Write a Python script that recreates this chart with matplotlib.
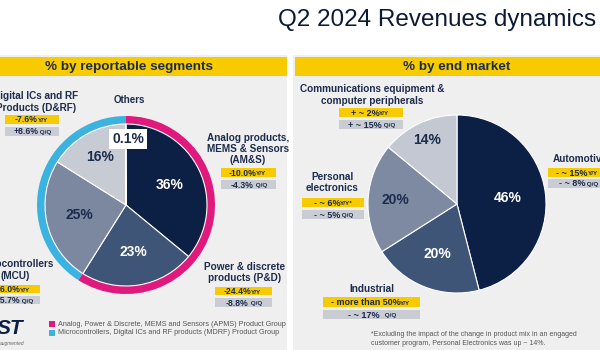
import numpy as np
import matplotlib.pyplot as plt
from matplotlib.patches import Rectangle

plt.rcParams['font.family'] = ['Liberation Sans', 'DejaVu Sans']

# data
seg_labels = ['Analog products,\nMEMS & Sensors\n(AM&S)', 'Power & discrete\nproducts (P&D)',
              'Microcontrollers\n(MCU)', 'Digital ICs and RF\nProducts (D&RF)', 'Others']
seg_share = [36, 23, 25, 16, 0.1]
seg_yy = ['-10.0%', '-24.4%', '-46.0%', '-7.6%']
seg_qq = ['-4.3%', '-8.8%', '-15.7%', '+8.6%']
group_labels = ['Analog, Power & Discrete, MEMS and Sensors (APMS) Product Group',
                'Microcontrollers, Digital ICs and RF products (MDRF) Product Group']
group_share = [59, 41]

mkt_labels = ['Automotive', 'Industrial', 'Personal\nelectronics',
              'Communications equipment &\ncomputer peripherals']
mkt_share = [46, 20, 20, 14]
mkt_yy = ['- ~ 15%', '- more than 50%', '- ~ 6%', '+ ~ 2%']
mkt_yy_unit = ['Y/Y', 'Y/Y', 'Y/Y*', 'Y/Y']
mkt_qq = ['- ~ 8%', '- ~ 17% ', '- ~ 5%', '+ ~ 15%']

navy = '#0c1f45'
txt = '#1d2c4c'
yellow = '#f8ca00'
grey = '#c9ccd3'
magenta = '#e0197d'
cyan = '#3bb3e0'
seg_colors = [navy, '#3e5577', '#7b88a0', '#c6cbd4', 'white']
mkt_colors = [navy, '#3f5578', '#7d8aa1', '#c3c8d2']

fig = plt.figure(figsize=(6, 3.5), dpi=100)
ax = fig.add_axes([0, 0, 1, 1])
ax.set_xlim(0, 600)
ax.set_ylim(350, 0)
ax.axis('off')

# panels and headers
ax.add_patch(Rectangle((0, 55), 287, 300, fc='#efefef', ec='none'))
ax.add_patch(Rectangle((293, 55), 310, 300, fc='#efefef', ec='none'))
ax.add_patch(Rectangle((0, 57), 287, 19, fc=yellow, ec='none'))
ax.add_patch(Rectangle((295, 57), 310, 19, fc=yellow, ec='none'))
ax.text(278, 20, 'Q2 2024 Revenues dynamics', fontsize=17.5, color='#0d1a33',
        ha='left', va='center')
ax.text(129, 67, '% by reportable segments', fontsize=9.7, weight='bold',
        color=txt, ha='center', va='center')
ax.text(457, 67, '% by end market', fontsize=9.7, weight='bold',
        color=txt, ha='center', va='center')


def tag(x0, x1, y0, y1, value, unit, fc, xc=None, size=6.5):
    ax.add_patch(Rectangle((x0, y0), x1 - x0, y1 - y0, fc=fc, ec='none'))
    if xc is None:
        xc = (x0 + x1) / 2 - 6
    t = ax.text(xc, (y0 + y1) / 2 + 0.5, value, ha='center', va='center',
                fontsize=size, weight='bold', color=txt)
    ax.annotate(unit, xy=(1, 0.12), xycoords=t, ha='left', va='bottom',
                fontsize=4.6, weight='bold', color=txt)


def label(x, y, s, ha='center'):
    ax.text(x, y, s, ha=ha, va='center', fontsize=7.2, weight='bold',
            color=txt, linespacing=1.15)


# left side labels
seg_pos = [(248, 149), (245, 272.5), (15, 270), (36, 102)]
seg_box = [(221, 276, 168, 177, 180, 189), (215, 272, 287, 295, 298, 307),
           (-15, 40, 285, 293, 296, 304), (5, 59, 115, 124, 127, 136)]
for i in range(4):
    label(seg_pos[i][0], seg_pos[i][1], seg_labels[i])
    x0, x1, ya, yb, yc, yd = seg_box[i]
    tag(x0, x1, ya, yb, seg_yy[i], 'Y/Y', yellow, size=6.2)
    tag(x0, x1, yc, yd, seg_qq[i], ' Q/Q', grey, size=6.2)
ax.text(129, 100, seg_labels[4], ha='center', va='center', fontsize=7,
        weight='bold', color=txt)

# right side labels
mkt_pos = [(553, 159, 'left'), (372, 289, 'center'), (332, 182.5, 'center'),
           (372, 95, 'center')]
mkt_box = [(548, 620, 168, 177, 179, 188), (323, 420, 297, 307, 310, 319),
           (302, 364, 198, 207, 210, 219), (339, 403, 108, 117, 120, 129)]
mkt_xc = [572, None, None, None]
for i in range(4):
    label(mkt_pos[i][0], mkt_pos[i][1], mkt_labels[i], ha=mkt_pos[i][2])
    x0, x1, ya, yb, yc, yd = mkt_box[i]
    tag(x0, x1, ya, yb, mkt_yy[i], mkt_yy_unit[i], yellow, xc=mkt_xc[i])
    tag(x0, x1, yc, yd, mkt_qq[i], ' Q/Q', grey, xc=mkt_xc[i])

# legend
for i, c in enumerate([magenta, cyan]):
    ax.add_patch(Rectangle((49, 321 + 8.5 * i), 6, 6, fc=c, ec='none'))
    ax.text(58, 324.5 + 8.5 * i, group_labels[i], fontsize=5.2, color='#555555',
            ha='left', va='center')

# logo
ax.text(-3, 329, 'ST', fontsize=15, weight='bold', style='italic', color=navy,
        ha='left', va='center')
ax.text(0, 344, 'augmented', fontsize=3.5, style='italic', color='#666666',
        ha='left', va='center')

# footnote
ax.text(371, 339, '*Excluding the impact of the change in product mix in an engaged\n'
        'customer program, Personal Electronics was up ~ 14%.', fontsize=5,
        color='#555555', ha='left', va='center', linespacing=1.5)


def pie_axes(cx, cy):
    pa = fig.add_axes([(cx - 100) / 600, (350 - cy - 100) / 350, 200 / 600, 200 / 350])
    pa.set_xlim(-1, 1)
    pa.set_ylim(-1, 1)
    pa.axis('off')
    return pa


def pct_labels(pa, share, dist, colors, radius):
    share = np.array(share, dtype=float)
    mid = np.cumsum(share) - share / 2
    theta = np.deg2rad(90 - 360 * mid / share.sum())
    for s, d, c, th in zip(share, dist, colors, theta):
        pa.text(d * radius * np.cos(th), d * radius * np.sin(th), '%d%%' % s,
                ha='center', va='center', fontsize=10, weight='bold', color=c)


# left pie with group ring
pa = pie_axes(126, 205)
pa.pie(group_share, colors=[magenta, cyan], radius=0.89, startangle=90,
       counterclock=False, wedgeprops=dict(width=0.085, edgecolor='none'))
pa.pie(seg_share, colors=seg_colors, radius=0.81, startangle=90,
       counterclock=False, wedgeprops=dict(edgecolor='white', linewidth=0.8))
pa.set_xlim(-1, 1)
pa.set_ylim(-1, 1)
pct_labels(pa, seg_share[:4], [0.6, 0.6, 0.6, 0.68], ['white', 'white', txt, txt], 0.8)
pa.text(0.02, 0.66, '0.1%', ha='center', va='center', fontsize=10, weight='bold',
        color=txt, bbox=dict(boxstyle='square,pad=0.2', fc='white', ec='none'))

# right pie
pb = pie_axes(457, 204)
pb.pie(mkt_share, colors=mkt_colors, radius=0.89, startangle=90,
       counterclock=False, wedgeprops=dict(edgecolor='white', linewidth=0.8))
pb.set_xlim(-1, 1)
pb.set_ylim(-1, 1)
pct_labels(pb, mkt_share, [0.57, 0.6, 0.69, 0.8], ['white', 'white', txt, txt], 0.89)

fig.savefig('out.png', dpi=100)
